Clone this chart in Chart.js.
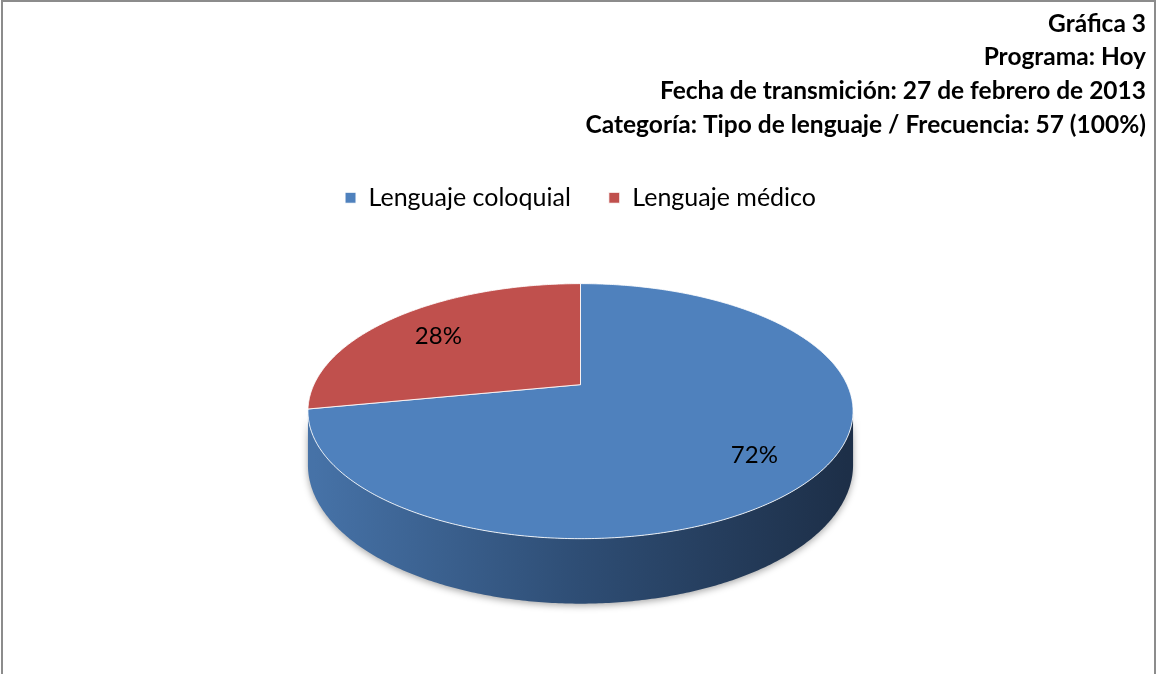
<!DOCTYPE html>
<html lang="es">
<head>
    <meta charset="UTF-8">
    <title>Gráfica 3</title>
    <style>
        body{
            margin: 0;
            overflow: hidden;
            background: #fff;
        }
        #frame{
            position: absolute;
            left: 1px;
            top: 0;
            width: 1155px;
            height: 674px;
            border: 2px solid #8c8c8c;
            border-bottom: none;
            box-sizing: border-box;
        }
    </style>
</head>
<body>
<div id="frame"><canvas id="chart" width="1151" height="672"></canvas></div>
<script src="https://cdn.jsdelivr.net/npm/chart.js"></script>
<script>
    const categories = ['Lenguaje coloquial', 'Lenguaje médico'];
    const frequencies = [41, 16];
    const percentLabels = ['72%', '28%'];
    const titleLines = [
        'Gráfica 3',
        'Programa: Hoy',
        'Fecha de transmición: 27 de febrero de 2013',
        'Categoría: Tipo de lenguaje / Frecuencia: 57 (100%)'
    ];
    const sliceColors = ['#4F81BD', '#C0504D'];
    const wallShades = [
        ['#4672A7', '#2E4D74', '#1D2F48'],
        ['#A5413F', '#7A302E', '#4F1F1E']
    ];

    // look of the tilted pie (px)
    const RX = 266.6, RY = 122, TILT = 0.208, DEPTH = 51.5, LABEL_R = 0.76;

    function project(cx, cy, theta, rf, depth) {
        const u = rf * Math.cos(theta), v = rf * Math.sin(theta);
        const w = 1 - TILT * v;
        return {x: cx + RX * u / w, y: cy + (RY * v + depth) / w};
    }

    function trace(ctx, cx, cy, a, b, depth, first) {
        const n = Math.max(2, Math.ceil(Math.abs(b - a) / 0.01));
        for (let i = 0; i <= n; i++) {
            const p = project(cx, cy, a + (b - a) * i / n, 1, depth);
            if (first && i === 0) ctx.moveTo(p.x, p.y); else ctx.lineTo(p.x, p.y);
        }
    }

    const pie3d = {
        id: 'pie3d',
        beforeDatasetsDraw(chart) {
            const ctx = chart.ctx;
            const arcs = chart.getDatasetMeta(0).data;
            const cx = arcs[0].x, cy = arcs[0].y;
            const lo = Math.asin(TILT), hi = Math.PI - Math.asin(TILT);

            // front wall
            arcs.forEach((arc, i) => {
                for (const off of [0, 2 * Math.PI, -2 * Math.PI]) {
                    const a = Math.max(arc.startAngle + off, lo);
                    const b = Math.min(arc.endAngle + off, hi);
                    if (b <= a) continue;
                    const g = ctx.createLinearGradient(cx - RX, 0, cx + RX, 0);
                    g.addColorStop(0, wallShades[i][0]);
                    g.addColorStop(0.5, wallShades[i][1]);
                    g.addColorStop(1, wallShades[i][2]);
                    ctx.save();
                    ctx.beginPath();
                    trace(ctx, cx, cy, a, b, 0, true);
                    trace(ctx, cx, cy, b, a, DEPTH, false);
                    ctx.closePath();
                    ctx.shadowColor = 'rgba(0,0,0,0.35)';
                    ctx.shadowBlur = 7;
                    ctx.shadowOffsetY = 2;
                    ctx.fillStyle = g;
                    ctx.fill();
                    ctx.restore();
                }
            });

            // top faces
            arcs.forEach((arc) => {
                const c = project(cx, cy, 0, 0, 0);
                ctx.beginPath();
                ctx.moveTo(c.x, c.y);
                trace(ctx, cx, cy, arc.startAngle, arc.endAngle, 0, false);
                ctx.closePath();
                ctx.fillStyle = arc.options.backgroundColor;
                ctx.fill();
                ctx.strokeStyle = 'rgba(255,255,255,0.85)';
                ctx.lineWidth = 1;
                ctx.stroke();
            });

            // percentages
            ctx.save();
            ctx.font = '24px Lato';
            ctx.fillStyle = '#000';
            ctx.textAlign = 'center';
            ctx.textBaseline = 'middle';
            arcs.forEach((arc, i) => {
                const p = project(cx, cy, (arc.startAngle + arc.endAngle) / 2, LABEL_R, 0);
                ctx.fillText(percentLabels[i], p.x, p.y + 5);
            });
            ctx.restore();
            return false;
        }
    };

    new Chart(document.getElementById('chart'), {
        type: 'pie',
        data: {
            labels: categories,
            datasets: [{
                data: frequencies,
                backgroundColor: sliceColors,
                borderColor: '#fff',
                borderWidth: 1
            }]
        },
        options: {
            responsive: false,
            animation: false,
            events: [],
            layout: {padding: {left: 12, right: 8, top: 0, bottom: 125}},
            plugins: {
                title: {
                    display: true,
                    text: titleLines,
                    align: 'end',
                    color: '#000',
                    font: {family: 'Lato', size: 24.5, weight: 'bold', lineHeight: 1.375},
                    padding: {top: 5, bottom: 5.5}
                },
                legend: {
                    position: 'top',
                    labels: {
                        color: '#000',
                        font: {family: 'Lato', size: 25},
                        boxWidth: 11,
                        boxHeight: 11,
                        padding: 38
                    }
                },
                tooltip: {enabled: false}
            }
        },
        plugins: [pie3d]
    });
</script>
</body>
</html>
